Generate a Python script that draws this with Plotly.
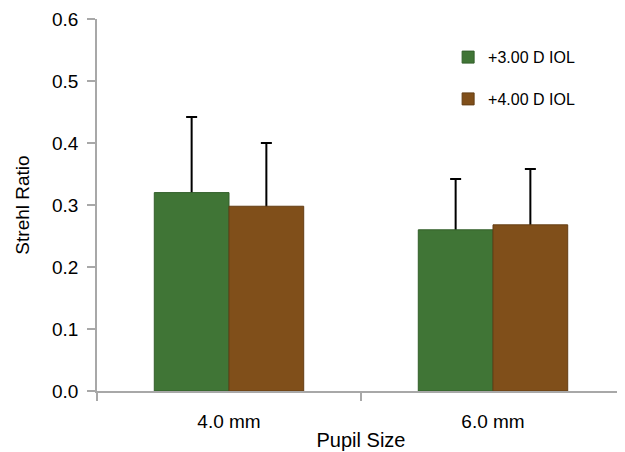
import plotly.graph_objects as go

categories = ["4.0 mm", "6.0 mm"]
series_names = ["+3.00 D IOL", "+4.00 D IOL"]
iol3_values = [0.32, 0.26]
iol3_errors = [0.122, 0.082]
iol4_values = [0.298, 0.268]
iol4_errors = [0.102, 0.090]
y_ticks = [0.0, 0.1, 0.2, 0.3, 0.4, 0.5, 0.6]

green = "rgb(64,117,54)"
brown = "rgb(128,79,26)"
axis_gray = "#a8a8a8"

specs = [
    (series_names[0], iol3_values, iol3_errors, green, "rgb(50,95,42)", "g"),
    (series_names[1], iol4_values, iol4_errors, brown, "rgb(100,62,20)", "b"),
]

fig = go.Figure()
# error bars first (their lower half is hidden under the opaque bars)
for name, vals, errs, col, lcol, grp in specs:
    fig.add_trace(go.Bar(
        x=categories, y=vals, name=name, offsetgroup=grp, showlegend=False,
        marker=dict(color="rgba(0,0,0,0)", line=dict(width=0)),
        error_y=dict(type="data", symmetric=True, array=errs, color="black",
                     thickness=2, width=5.5),
        hoverinfo="skip",
    ))
for name, vals, errs, col, lcol, grp in specs:
    fig.add_trace(go.Bar(
        x=categories, y=vals, name=name, offsetgroup=grp, legendgroup=grp,
        marker=dict(color=col, line=dict(color=lcol, width=1)),
    ))

fig.update_layout(
    width=617, height=444,
    margin=dict(l=89, r=0, t=11, b=61),
    paper_bgcolor="white", plot_bgcolor="white",
    barmode="group", bargap=0.434, bargroupgap=0,
    font=dict(family="Liberation Sans, Arial, sans-serif", color="black", size=19),
    showlegend=True,
    legend=dict(x=0.665, y=0.943, xanchor="left", yanchor="top",
                font=dict(size=16), tracegroupgap=18,
                bgcolor="rgba(0,0,0,0)"),
    xaxis=dict(
        range=[-0.5, 1.5], showline=True, linecolor=axis_gray, linewidth=1.5,
        ticks="outside", tickson="boundaries", ticklen=8, tickcolor=axis_gray,
        tickwidth=1.5, showgrid=False, zeroline=False,
        tickfont=dict(size=19), ticklabelstandoff=12,
        title=dict(text="Pupil Size", font=dict(size=20), standoff=2),
    ),
    yaxis=dict(
        range=[0, 0.6], tickvals=y_ticks, tickformat=".1f",
        showline=True, linecolor=axis_gray, linewidth=1.5,
        ticks="outside", ticklen=8, tickcolor=axis_gray, tickwidth=1.5,
        showgrid=False, zeroline=False, tickfont=dict(size=19),
        ticklabelstandoff=5,
        title=dict(text="Strehl Ratio", font=dict(size=19), standoff=17),
    ),
)

fig.write_html("out.html")
